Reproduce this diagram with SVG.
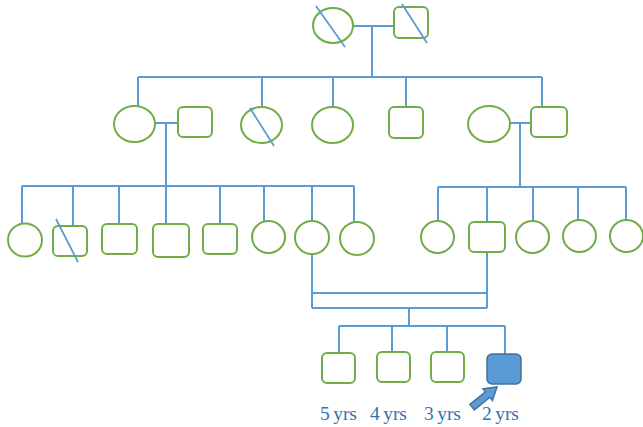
<svg xmlns="http://www.w3.org/2000/svg" width="643" height="427" viewBox="0 0 643 427">
<style>
.f{fill:none;stroke:#70AD47;stroke-width:2}
.m{fill:none;stroke:#70AD47;stroke-width:2}
.c{fill:none;stroke:#5B9BD5;stroke-width:2}
.s{stroke:#5B9BD5;stroke-width:1.8}
.p{fill:#5B9BD5;stroke:#41719C;stroke-width:1.5}
.t{font-family:"Liberation Serif",serif;font-size:19.5px;fill:#2E74B5;word-spacing:-1.5px}
</style>
<rect width="643" height="427" fill="#fff"/>
<g id="connectors" class="c">
<path d="M353 26H394M372 26V77M138 77H542M138 77V106M262 77V108M333 77V107M406 77V107M542 77V107"/>
<path d="M155 123H178M166 123V186M22 186H354M22 186V224M73 186V226M119 186V224M166 186V224M220 186V224M264 186V221M312 186V221M354 186V222"/>
<path d="M510 123H531M520 123V187M438 187H626M438 187V221M487 187V222M533 187V221M578 187V220M626 187V220"/>
<path d="M312 254V308M487 252V308M312 293H487M312 308H487M409 308V326M339 326H505M339 326V353M392 326V352M447 326V352M505 326V354"/>
</g>
<g id="g1-female"><ellipse class="f" cx="333" cy="25.5" rx="20" ry="17.5"/><line class="s" x1="316" y1="6" x2="345" y2="47"/></g>
<g id="g1-male"><rect class="m" x="394" y="7" width="34" height="31" rx="5"/><line class="s" x1="402" y1="4" x2="427" y2="43"/></g>
<g id="g2-f1"><ellipse class="f" cx="134.5" cy="124" rx="20.5" ry="18"/></g>
<g id="g2-m1"><rect class="m" x="178" y="107" width="34" height="30" rx="5"/></g>
<g id="g2-f2"><ellipse class="f" cx="261.5" cy="125" rx="20.5" ry="18"/><line class="s" x1="250" y1="108" x2="274" y2="146"/></g>
<g id="g2-f3"><ellipse class="f" cx="332.5" cy="125" rx="20.5" ry="18"/></g>
<g id="g2-m2"><rect class="m" x="389" y="107" width="34" height="31" rx="5"/></g>
<g id="g2-f4"><ellipse class="f" cx="489" cy="124" rx="21" ry="18"/></g>
<g id="g2-m3"><rect class="m" x="531" y="107" width="36" height="30" rx="5"/></g>
<g id="g3-1"><ellipse class="f" cx="25" cy="240" rx="17" ry="16.5"/></g>
<g id="g3-2"><rect class="m" x="53" y="226" width="34" height="30" rx="5"/><line class="s" x1="56" y1="219" x2="78" y2="262"/></g>
<g id="g3-3"><rect class="m" x="102" y="224" width="35" height="30" rx="5"/></g>
<g id="g3-4"><rect class="m" x="153" y="224" width="36" height="33" rx="5"/></g>
<g id="g3-5"><rect class="m" x="203" y="224" width="34" height="30" rx="5"/></g>
<g id="g3-6"><ellipse class="f" cx="268.5" cy="237" rx="16.5" ry="16"/></g>
<g id="g3-7"><ellipse class="f" cx="312" cy="237.5" rx="17" ry="16.5"/></g>
<g id="g3-8"><ellipse class="f" cx="357" cy="238.5" rx="17" ry="16.5"/></g>
<g id="g3-9"><ellipse class="f" cx="437.5" cy="237" rx="16.5" ry="16"/></g>
<g id="g3-10"><rect class="m" x="469" y="222" width="36" height="30" rx="5"/></g>
<g id="g3-11"><ellipse class="f" cx="532.5" cy="237" rx="16.5" ry="16"/></g>
<g id="g3-12"><ellipse class="f" cx="579.5" cy="236" rx="16.5" ry="16"/></g>
<g id="g3-13"><ellipse class="f" cx="626.5" cy="236" rx="16.5" ry="16"/></g>
<g id="g4-1"><rect class="m" x="322" y="353" width="33" height="30" rx="5"/><text class="t" x="320" y="420">5 yrs</text></g>
<g id="g4-2"><rect class="m" x="377" y="352" width="33" height="30" rx="5"/><text class="t" x="370" y="420">4 yrs</text></g>
<g id="g4-3"><rect class="m" x="431" y="352" width="33" height="30" rx="5"/><text class="t" x="424" y="420">3 yrs</text></g>
<g id="g4-4"><rect class="p" x="487" y="354" width="34" height="30" rx="5"/><text class="t" x="482" y="420">2 yrs</text></g>
<g id="proband-arrow"><polygon class="p" transform="translate(497 387) rotate(141)" points="0,0 12,-7.5 12,-3.5 32,-3.5 32,3.5 12,3.5 12,7.5"/></g>
</svg>
